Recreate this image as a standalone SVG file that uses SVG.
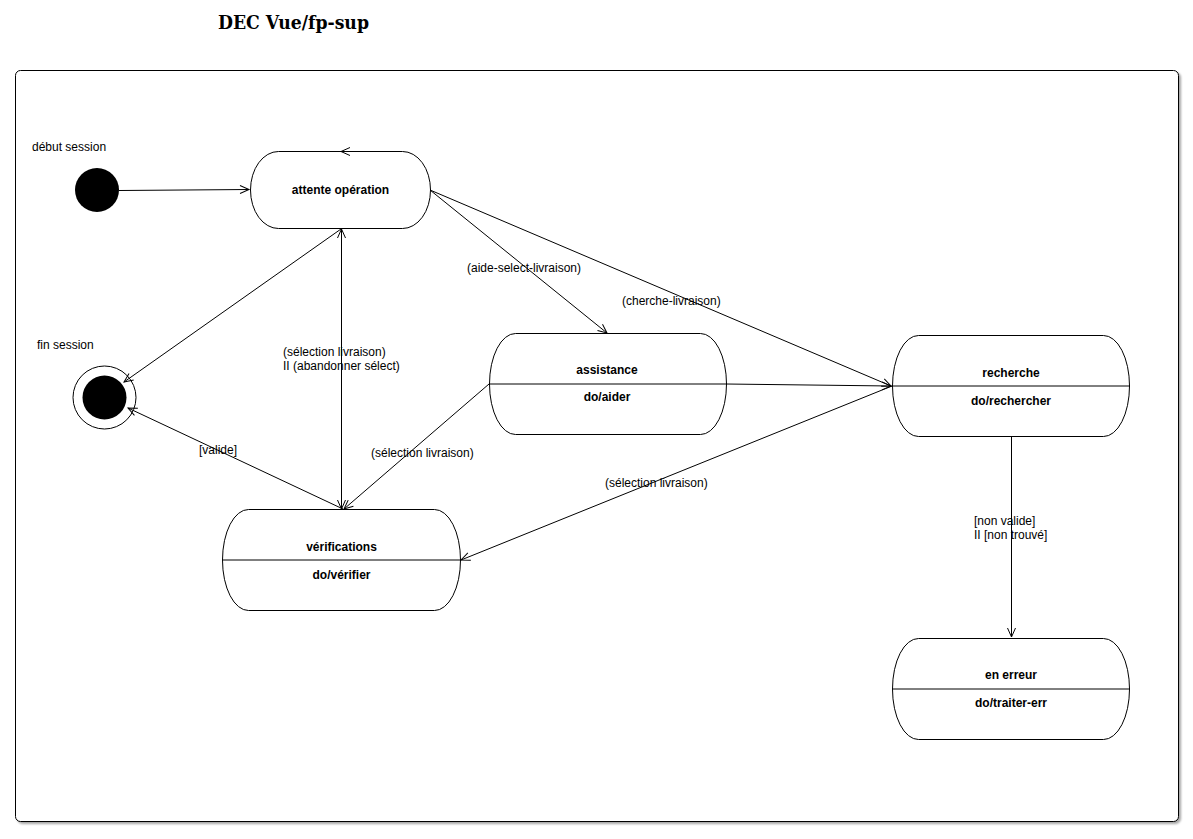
<svg xmlns="http://www.w3.org/2000/svg" width="1193" height="839" viewBox="0 0 1193 839">
<defs>
<marker id="arr" markerWidth="12" markerHeight="10" refX="10" refY="5" orient="auto" markerUnits="userSpaceOnUse">
<path d="M1,1 L10,5 L1,9" fill="none" stroke="#000" stroke-width="1"/>
</marker>
<filter id="sh" x="-5%" y="-5%" width="110%" height="110%">
<feDropShadow dx="2" dy="2" stdDeviation="1" flood-color="#000" flood-opacity="0.35"/>
</filter>
</defs>
<style>
.lbl{font-family:"Liberation Sans",Arial,sans-serif;font-size:12px;fill:#000}
.nt{font-family:"Liberation Sans",Arial,sans-serif;font-size:12px;font-weight:bold;fill:#000;text-anchor:middle}
.st{fill:#fff;stroke:#000;stroke-width:1}
.ln{fill:none;stroke:#000;stroke-width:1}
.cn{fill:none;stroke:#000;stroke-width:1;marker-end:url(#arr)}
</style>
<rect width="1193" height="839" fill="#fff"/>
<text x="218" y="29" style="font-family:'DejaVu Serif','Liberation Serif',serif;font-size:19px;font-weight:bold" textLength="151" lengthAdjust="spacingAndGlyphs">DEC Vue/fp-sup</text>
<rect id="frame" x="15.5" y="70.5" width="1163" height="751" rx="5" ry="5" fill="#fff" stroke="#000" stroke-width="1" filter="url(#sh)"/>

<g id="debut-session">
<circle cx="97" cy="190" r="22" fill="#000"/>
<text class="lbl" x="32" y="151">début session</text>
</g>
<g id="fin-session">
<circle cx="104.5" cy="397.5" r="31.5" fill="#fff" stroke="#000"/>
<circle cx="104.5" cy="397.5" r="22" fill="#000"/>
<text class="lbl" x="37" y="349">fin session</text>
</g>
<g id="attente-operation">
<rect class="st" x="250.5" y="151.5" width="180" height="77" rx="28" ry="38.5"/>
<text class="nt" x="340.5" y="194">attente opération</text>
</g>
<g id="assistance">
<rect class="st" x="489.5" y="333.5" width="237" height="101" rx="26" ry="50.5"/>
<line class="ln" x1="489.5" y1="384" x2="726.5" y2="384"/>
<text class="nt" x="607" y="374">assistance</text>
<text class="nt" x="607" y="401">do/aider</text>
</g>
<g id="recherche">
<rect class="st" x="892.5" y="335.5" width="237" height="101" rx="26" ry="50.5"/>
<line class="ln" x1="892.5" y1="386" x2="1129.5" y2="386"/>
<text class="nt" x="1011" y="377">recherche</text>
<text class="nt" x="1011" y="405">do/rechercher</text>
</g>
<g id="verifications">
<rect class="st" x="222.5" y="509.5" width="238" height="101" rx="26" ry="50.5"/>
<line class="ln" x1="222.5" y1="560" x2="460.5" y2="560"/>
<text class="nt" x="341.5" y="551">vérifications</text>
<text class="nt" x="341.5" y="579">do/vérifier</text>
</g>
<g id="en-erreur">
<rect class="st" x="892.5" y="638.5" width="237" height="101" rx="26" ry="50.5"/>
<line class="ln" x1="892.5" y1="689" x2="1129.5" y2="689"/>
<text class="nt" x="1011" y="679">en erreur</text>
<text class="nt" x="1011" y="707">do/traiter-err</text>
</g>

<g id="connectors">
<path class="cn" d="M119,190.5 L249,189.5"/>
<path class="cn" d="M353,151.5 L341,151.5"/>
<path class="cn" d="M341.5,500 L341.5,229"/>
<path class="cn" d="M341.5,240 L341.5,509"/>
<path class="cn" d="M341,229 L124,382"/>
<path class="cn" d="M343,509 L128,408"/>
<path class="cn" d="M489,384 L344,509"/>
<path class="cn" d="M430,190 L607,333"/>
<path class="cn" d="M430,190 L891,386"/>
<path class="cn" d="M726,384 L891,386"/>
<path class="cn" d="M892,386 L461,560"/>
<path class="cn" d="M1011.5,437 L1011.5,637"/>

<text class="lbl" x="467" y="272">(aide-select-livraison)</text>
<text class="lbl" x="622" y="305">(cherche-livraison)</text>
<text class="lbl" x="283" y="356">(sélection livraison)</text>
<text class="lbl" x="283" y="370">II (abandonner sélect)</text>
<text class="lbl" x="199" y="454">[valide]</text>
<text class="lbl" x="371" y="457">(sélection livraison)</text>
<text class="lbl" x="605" y="487">(sélection livraison)</text>
<text class="lbl" x="974" y="525">[non valide]</text>
<text class="lbl" x="974" y="539">II [non trouvé]</text>
</g>
</svg>
